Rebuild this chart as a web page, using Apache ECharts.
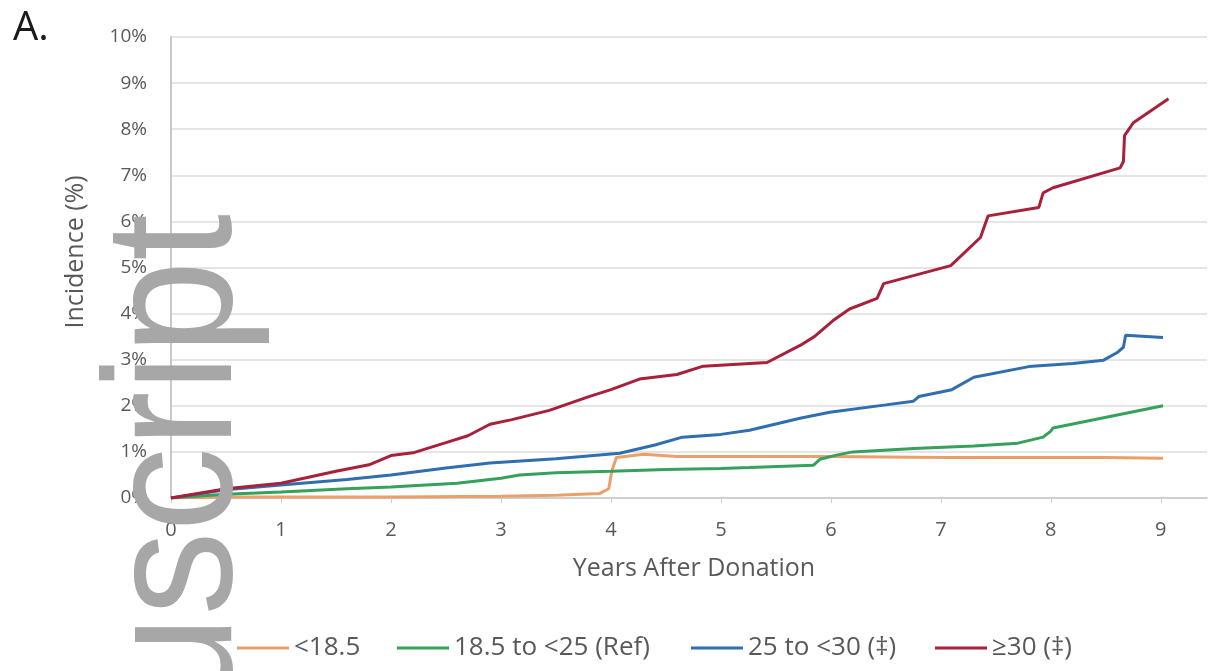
<!DOCTYPE html>
<html>
<head>
<meta charset="utf-8">
<script src="https://cdn.jsdelivr.net/npm/echarts@6/dist/echarts.min.js"></script>
<style>
html,body{margin:0;padding:0;background:#fff;}
#chart{width:1217px;height:671px;}
</style>
</head>
<body>
<div id="chart"></div>
<script>
// ---- data ----
const seriesNames = ['<18.5', '18.5 to <25 (Ref)', '25 to <30 (\u2021)', '\u226530 (\u2021)'];
const xTicks = [0, 1, 2, 3, 4, 5, 6, 7, 8, 9];

const under185X = [0, 0.5, 1, 2, 3, 3.5, 3.9, 3.98, 4.01, 4.05, 4.3, 4.6, 5, 6, 7, 8, 8.5, 9.02];
const under185Y = [0, 0.02, 0.02, 0.02, 0.04, 0.06, 0.1, 0.2, 0.6, 0.88, 0.95, 0.9, 0.9, 0.9, 0.88, 0.88, 0.88, 0.86];

const refX = [0, 0.5, 1, 1.6, 2, 2.6, 3.0, 3.17, 3.5, 4, 4.5, 5, 5.26, 5.84, 5.9, 6.05, 6.2, 6.8, 7.3, 7.7, 7.93, 8.0, 8.02, 9.02];
const refY = [0, 0.08, 0.13, 0.2, 0.24, 0.32, 0.43, 0.5, 0.55, 0.58, 0.62, 0.64, 0.66, 0.71, 0.84, 0.93, 1.0, 1.08, 1.13, 1.19, 1.32, 1.45, 1.52, 2.0];

const overX = [0, 0.5, 1, 1.6, 2, 2.5, 2.9, 3.5, 4.08, 4.4, 4.65, 5.0, 5.26, 5.72, 5.99, 6.5, 6.75, 6.8, 7.1, 7.3, 7.8, 8.2, 8.48, 8.6, 8.66, 8.68, 9.02];
const overY = [0, 0.18, 0.28, 0.4, 0.5, 0.65, 0.76, 0.85, 0.97, 1.15, 1.32, 1.38, 1.47, 1.73, 1.86, 2.02, 2.1, 2.2, 2.35, 2.62, 2.85, 2.92, 2.99, 3.15, 3.27, 3.53, 3.48];

const obeseX = [0, 0.5, 1, 1.5, 1.8, 2.0, 2.2, 2.5, 2.7, 2.9, 3.1, 3.44, 3.8, 4.0, 4.26, 4.6, 4.84, 5.42, 5.72, 5.85, 6.02, 6.17, 6.42, 6.48, 7.09, 7.36, 7.43, 7.89, 7.93, 8.02, 8.63, 8.66, 8.67, 8.75, 9.07];
const obeseY = [0, 0.2, 0.32, 0.58, 0.72, 0.92, 0.98, 1.2, 1.35, 1.6, 1.7, 1.9, 2.2, 2.35, 2.58, 2.68, 2.86, 2.94, 3.31, 3.5, 3.85, 4.1, 4.33, 4.65, 5.04, 5.65, 6.12, 6.3, 6.62, 6.73, 7.16, 7.3, 7.86, 8.14, 8.66];

const colors = ['#EBA06C', '#35A15B', '#2F6FB0', '#A8213A'];
const legendLeft = [232, 392, 686, 930];

function pairs(xs, ys) { return xs.map((x, i) => [x, ys[i]]); }
const allData = [pairs(under185X, under185Y), pairs(refX, refY), pairs(overX, overY), pairs(obeseX, obeseY)];

const FONT = '"Open Sans", "Liberation Sans", sans-serif';
const GREY = '#595959';

const chart = echarts.init(document.getElementById('chart'), null, {renderer: 'canvas'});
chart.setOption({
  backgroundColor: '#ffffff',
  animation: false,
  grid: {left: 171, right: 10, top: 37, bottom: 173},
  xAxis: {
    type: 'value', min: 0, max: 9.42, interval: 1,
    axisLine: {show: true, lineStyle: {color: '#C8C8C8', width: 1.5}},
    axisTick: {show: true, length: 5, lineStyle: {color: '#D0D0D0'}, customValues: xTicks},
    axisLabel: {customValues: xTicks, margin: 22, fontSize: 20, fontFamily: FONT, color: GREY},
    splitLine: {show: false}
  },
  yAxis: {
    type: 'value', min: 0, max: 10, interval: 1,
    axisLine: {show: true, lineStyle: {color: '#C8C8C8', width: 2}},
    axisTick: {show: false},
    axisLabel: {formatter: '{value}%', margin: 24, fontSize: 19, fontFamily: FONT, color: GREY},
    splitLine: {show: true, lineStyle: {color: '#DCDCDC', width: 1.5}}
  },
  legend: seriesNames.map((n, i) => ({
    data: [n], left: legendLeft[i], top: 630, itemWidth: 52, itemHeight: 14,
    textStyle: {fontSize: 26, fontFamily: FONT, color: GREY},
    icon: 'path://M0,6 L52,6 L52,9 L0,9 Z'
  })),
  series: seriesNames.map((n, i) => ({
    name: n, type: 'line', data: allData[i], symbol: 'none', showSymbol: false,
    lineStyle: {color: colors[i], width: 3}, itemStyle: {color: colors[i]},
    z: 2 + i
  })),
  graphic: [
    {type: 'text', left: 13, top: 9, style: {text: 'A.', font: '40px "Open Sans", sans-serif', fill: '#1a1a1a'}},
    {type: 'text', x: 76, y: 252, rotation: Math.PI / 2,
      style: {text: 'Incidence (%)', font: '25px "Open Sans", sans-serif', fill: GREY, align: 'center', verticalAlign: 'middle'}},
    {type: 'text', x: 694, y: 569,
      style: {text: 'Years After Donation', font: '25px "Open Sans", sans-serif', fill: GREY, align: 'center', verticalAlign: 'middle'}},
    {type: 'text', x: 181, y: 709, rotation: Math.PI / 2, scaleY: 1.08, z: 100,
      style: {text: 'uscript', font: '168px "Liberation Sans", Arial, sans-serif', fill: '#A7A7A7', align: 'left', verticalAlign: 'middle'}}
  ]
});
</script>
</body>
</html>
